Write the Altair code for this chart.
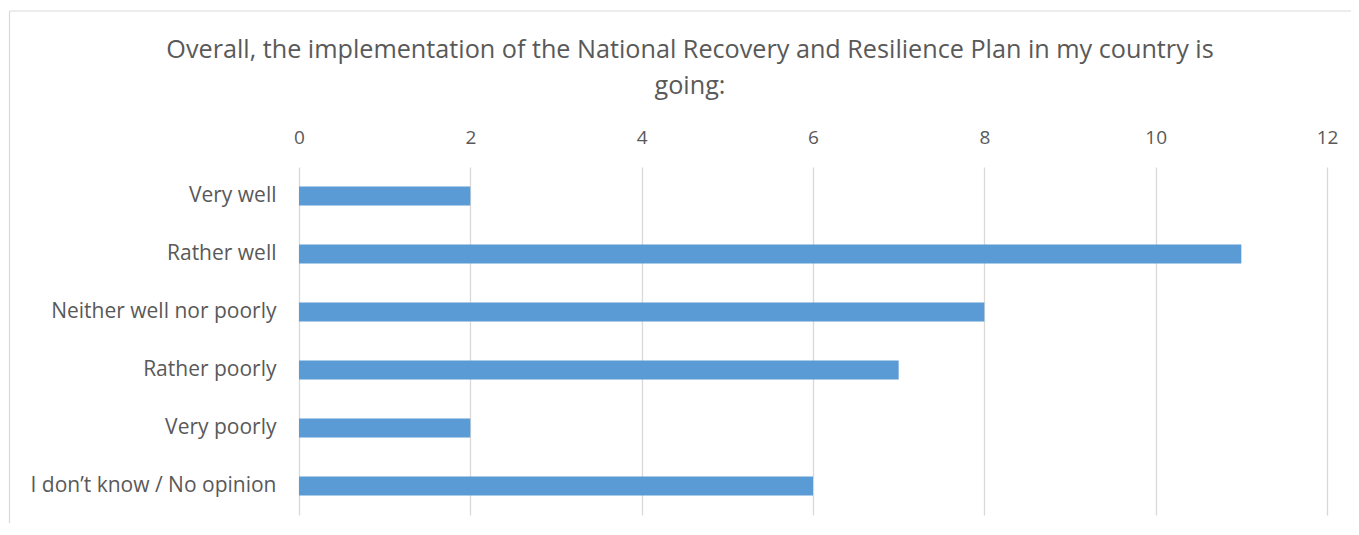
import altair as alt
import pandas as pd

categories = ["Very well", "Rather well", "Neither well nor poorly", "Rather poorly",
              "Very poorly", "I don\u2019t know / No opinion"]
values = [2, 11, 8, 7, 2, 6]
x_ticks = [0, 2, 4, 6, 8, 10, 12]
title_lines = ["Overall, the implementation of the National Recovery and Resilience Plan in my country is",
               "going:"]

FONT = "Open Sans"
TXT = "#595959"
GRID = "#d9d9d9"

df = pd.DataFrame({"category": categories, "value": values})

bars = alt.Chart(df).mark_bar(color="#5b9bd5").encode(
    x=alt.X("value:Q",
            scale=alt.Scale(domain=[0, 12], nice=False),
            axis=alt.Axis(orient="top", values=x_ticks, title=None, ticks=False, domain=False,
                          grid=True, gridColor=GRID, gridWidth=1.3, labelFlush=False,
                          labelFont=FONT, labelFontSize=19, labelColor=TXT,
                          labelPadding=24, labelBaseline="alphabetic")),
    y=alt.Y("category:N", sort=categories,
            scale=alt.Scale(paddingInner=0.67, paddingOuter=0.335),
            axis=alt.Axis(title=None, ticks=False, domain=False, grid=False,
                          labelFont=FONT, labelFontSize=21, labelColor=TXT,
                          labelPadding=23, labelLimit=400)),
)

tdf = pd.DataFrame({"t": title_lines, "row": [0, 1]})
title = alt.Chart(tdf).mark_text(font=FONT, fontSize=25.2, color=TXT, align="center",
                                 baseline="alphabetic").encode(
    x=alt.value(391),
    y=alt.Y("row:O", scale=alt.Scale(type="point", range=[-109, -73], padding=0), axis=None),
    text="t:N",
)

bdf = pd.DataFrame({"k": ["top", "left"]})
border_top = alt.Chart(bdf.iloc[[0]]).mark_rule(color=GRID, strokeWidth=1.2).encode(
    x=alt.value(-289.5), x2=alt.value(1065), y=alt.value(-156))
border_left = alt.Chart(bdf.iloc[[1]]).mark_rule(color=GRID, strokeWidth=1.2).encode(
    x=alt.value(-289.5), y=alt.value(-156), y2=alt.value(380))

chart = alt.layer(border_top, border_left, bars, title).resolve_scale(y="independent").properties(
    width=1028, height=348,
    autosize=alt.AutoSizeParams(type="none"),
    padding={"left": 291, "top": 159, "right": 24, "bottom": 8},
    background="white",
).configure_view(stroke=None)

chart.save("out.html", embed_options={"renderer": "svg", "actions": False})
